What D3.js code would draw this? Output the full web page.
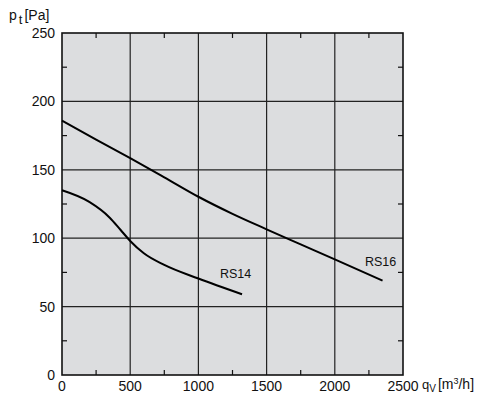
<!DOCTYPE html>
<html>
<head>
<meta charset="utf-8">
<script src="https://cdn.jsdelivr.net/npm/d3@7"></script>
<style>
  body { margin: 0; background: #fff; }
  svg text { font-family: "Liberation Sans", Arial, sans-serif; fill: #111; }
</style>
</head>
<body>
<div id="chart"></div>
<script>
// values
var rs16Flow = [0, 250, 500, 750, 1000, 1250, 1500, 1750, 2000, 2350];
var rs16Pressure = [186, 172, 158.5, 144.5, 130.3, 117.8, 106.5, 95.5, 84.5, 69];
var rs14Flow = [0, 200, 350, 430, 500, 600, 750, 1000, 1320];
var rs14Pressure = [135, 126.5, 115, 106, 98, 89, 80.5, 70.5, 59];
var xTicks = [0, 500, 1000, 1500, 2000, 2500];
var yTicks = [0, 50, 100, 150, 200, 250];
var xMinor = [250, 750, 1250, 1750, 2250];
var yMinor = [25, 75, 125, 175, 225];
var curveNames = ["RS14", "RS16"];
var labelPos = [[1158, 71], [2221, 80]];

var width = 481, height = 394;
var margin = {top: 33, right: 78, bottom: 19, left: 62};

var svg = d3.select('#chart').append('svg')
    .attr('width', width)
    .attr('height', height);

var x = d3.scaleLinear()
    .domain([0, 2500])
    .range([margin.left, width - margin.right]);

var y = d3.scaleLinear()
    .domain([0, 250])
    .range([height - margin.bottom, margin.top]);

svg.append("rect")
    .attr("x", x(0)).attr("y", y(250))
    .attr("width", x(2500) - x(0))
    .attr("height", y(0) - y(250))
    .attr("fill", "#dcdddf");

// grid
svg.append("g").selectAll("line")
  .data(xTicks.slice(1, -1))
  .enter().append("line")
    .attr("x1", x).attr("x2", x)
    .attr("y1", y(0)).attr("y2", y(250))
    .attr("stroke", "#222").attr("stroke-width", 1.2);

svg.append("g").selectAll("line")
  .data(yTicks.slice(1, -1))
  .enter().append("line")
    .attr("y1", y).attr("y2", y)
    .attr("x1", x(0)).attr("x2", x(2500))
    .attr("stroke", "#222").attr("stroke-width", 1.2);

// minor ticks on all four sides
var tickLen = 5;
var minor = svg.append("g").attr("stroke", "#111").attr("stroke-width", 1.2);
minor.selectAll("line.b").data(xMinor).enter().append("line").attr("class", "b")
    .attr("x1", x).attr("x2", x).attr("y1", y(0)).attr("y2", y(0) - tickLen);
minor.selectAll("line.t").data(xMinor).enter().append("line").attr("class", "t")
    .attr("x1", x).attr("x2", x).attr("y1", y(250)).attr("y2", y(250) + tickLen);
minor.selectAll("line.l").data(yMinor).enter().append("line").attr("class", "l")
    .attr("y1", y).attr("y2", y).attr("x1", x(0)).attr("x2", x(0) + tickLen);
minor.selectAll("line.r").data(yMinor).enter().append("line").attr("class", "r")
    .attr("y1", y).attr("y2", y).attr("x1", x(2500)).attr("x2", x(2500) - tickLen);

// frame
svg.append("rect")
    .attr("x", x(0)).attr("y", y(250))
    .attr("width", x(2500) - x(0))
    .attr("height", y(0) - y(250))
    .attr("fill", "none")
    .attr("stroke", "#111").attr("stroke-width", 1.6);

// tick labels
svg.append("g").selectAll("text")
  .data(xTicks)
  .enter().append("text")
    .attr("x", x)
    .attr("y", y(0) + 16)
    .attr("text-anchor", "middle")
    .attr("font-size", 14)
    .text(function(d) { return d; });

svg.append("g").selectAll("text")
  .data(yTicks)
  .enter().append("text")
    .attr("x", x(0) - 7)
    .attr("y", function(d) { return y(d) + 5; })
    .attr("text-anchor", "end")
    .attr("font-size", 14)
    .text(function(d) { return d; });

// axis titles
var yt = svg.append("text").attr("x", 9).attr("y", 20).attr("font-size", 14);
yt.append("tspan").text("p");
yt.append("tspan").attr("dy", 4).attr("dx", 2).attr("font-size", 13).text("t");
yt.append("tspan").attr("dy", -4).attr("dx", 2).text("[Pa]");

var xt = svg.append("text").attr("x", x(2500) + 19).attr("y", y(0) + 14).attr("font-size", 14);
xt.append("tspan").attr("font-size", 13).text("q");
xt.append("tspan").attr("dy", 3).attr("font-size", 10).text("V");
xt.append("tspan").attr("dy", -3).attr("dx", 2).text("[m");
xt.append("tspan").attr("dy", -5).attr("font-size", 9).text("3");
xt.append("tspan").attr("dy", 5).text("/h]");

// curves
var line = d3.line()
    .x(function(d) { return x(d[0]); })
    .y(function(d) { return y(d[1]); })
    .curve(d3.curveMonotoneX);

var curves = [d3.zip(rs14Flow, rs14Pressure), d3.zip(rs16Flow, rs16Pressure)];

svg.append("g").selectAll("path")
  .data(curves)
  .enter().append("path")
    .attr("d", line)
    .attr("fill", "none")
    .attr("stroke", "#000")
    .attr("stroke-width", 2);

svg.append("g").selectAll("text")
  .data(curveNames)
  .enter().append("text")
    .attr("x", function(d, i) { return x(labelPos[i][0]); })
    .attr("y", function(d, i) { return y(labelPos[i][1]); })
    .attr("font-size", 12.5)
    .text(function(d) { return d; });
</script>
</body>
</html>
